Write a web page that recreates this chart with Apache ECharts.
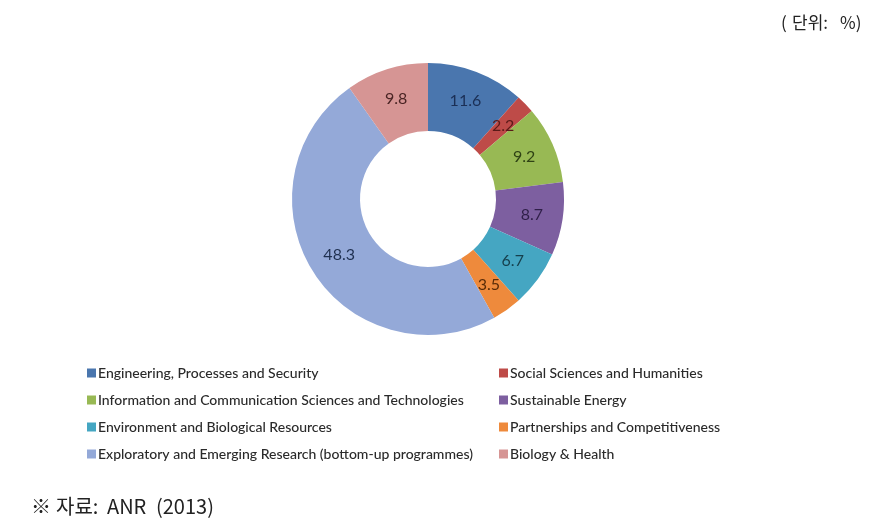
<!DOCTYPE html>
<html>
<head>
<meta charset="utf-8">
<script src="https://cdn.jsdelivr.net/npm/echarts@6/dist/echarts.min.js"></script>
<style>html,body{margin:0;padding:0;background:#fff}#c{width:883px;height:530px}</style>
</head>
<body>
<div id="c"></div>
<script>
var categories = [
  "Engineering, Processes and Security",
  "Social Sciences and Humanities",
  "Information and Communication Sciences and Technologies",
  "Sustainable Energy",
  "Environment and Biological Resources",
  "Partnerships and Competitiveness",
  "Exploratory and Emerging Research (bottom-up programmes)",
  "Biology & Health"
];
var values = [11.6, 2.2, 9.2, 8.7, 6.7, 3.5, 48.3, 9.8];
var colors = ["#4A76AE", "#BE4B48", "#98B954", "#7D5FA0", "#45A6C2", "#EE8A3C", "#94A9D8", "#D69594"];
var labelColors = ["#1b2f55", "#5a1a18", "#2f4215", "#2f1f48", "#16404d", "#5a2c08", "#1f3050", "#4a2424"];
var unitParts = ["(", "단위:", "%)"];
var sourceParts = ["※", "자료:", "ANR", "(2013)"];

var chart = echarts.init(document.getElementById('c'), null, {renderer: 'canvas'});
var data = categories.map(function (n, i) {
  return {name: n, value: values[i], itemStyle: {color: colors[i]},
          label: {color: labelColors[i]}};
});
var legendText = {fontFamily: 'Lato, "Open Sans", sans-serif', fontSize: 14, color: '#2a2a2a',
                  fontWeight: 500, padding: [0, 0, 0, -3]};
var unitX = [781, 792, 840];
var sourceX = [31, 56, 107, 156];
var graphics = [];
unitParts.forEach(function (t, i) {
  graphics.push({type: 'text', left: unitX[i], top: 14, style: {text: t, font: '17px "Noto Sans CJK KR"', fill: '#222'}});
});
sourceParts.forEach(function (t, i) {
  graphics.push({type: 'text', left: sourceX[i], top: 496, style: {text: t, font: '20px "Noto Sans CJK KR"', fill: '#222'}});
});
chart.setOption({
  animation: false,
  legend: [
    {orient: 'vertical', left: 82, top: 361, itemWidth: 9, itemHeight: 9, itemGap: 13, icon: 'rect',
     data: [categories[0], categories[2], categories[4], categories[6]], textStyle: legendText, selectedMode: false},
    {orient: 'vertical', left: 494, top: 361, itemWidth: 9, itemHeight: 9, itemGap: 13, icon: 'rect',
     data: [categories[1], categories[3], categories[5], categories[7]], textStyle: legendText, selectedMode: false}
  ],
  graphic: graphics,
  series: [{
    type: 'pie',
    center: [428, 199],
    radius: [68, 136],
    startAngle: 90,
    clockwise: true,
    avoidLabelOverlap: false,
    label: {show: true, position: 'inside', formatter: '{c}', fontSize: 16,
            fontFamily: 'Lato, "Open Sans", sans-serif'},
    labelLine: {show: false},
    emphasis: {disabled: true},
    itemStyle: {borderColor: '#fff', borderWidth: 0},
    data: data
  }]
});
</script>
</body>
</html>
